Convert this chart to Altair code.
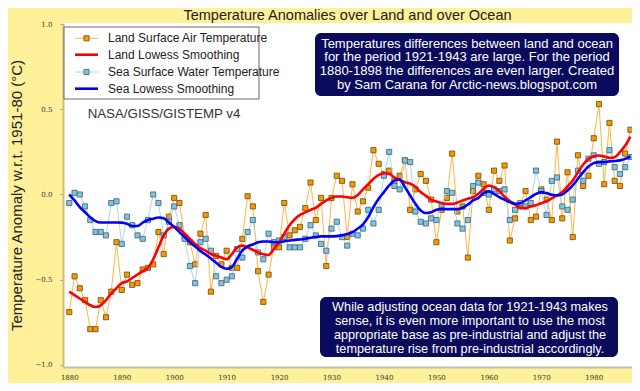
import altair as alt
import pandas as pd

years = list(range(1880, 1988))

land = [-0.69, -0.48, -0.55, -0.62, -0.79, -0.79, -0.62, -0.72, -0.57, -0.28,
        -0.56, -0.47, -0.53, -0.52, -0.44, -0.43, -0.41, -0.22, -0.35, -0.13,
        -0.02, -0.05, -0.25, -0.28, -0.41, -0.23, -0.12, -0.57, -0.36, -0.41,
        -0.33, -0.43, -0.43, -0.26, -0.01, -0.07, -0.45, -0.63, -0.47, -0.31,
        -0.31, -0.05, -0.24, -0.21, -0.19, -0.08, 0.07, -0.15, -0.02, -0.42,
        -0.02, 0.11, 0.08, -0.25, 0.06, -0.10, -0.04, 0.04, 0.26, 0.18,
        0.12, 0.14, 0.08, 0.11, 0.20, -0.09, 0.03, 0.12, 0.08, -0.03,
        -0.28, -0.09, -0.02, 0.24, -0.10, -0.07, -0.37, 0.02, 0.11, 0.06,
        -0.09, 0.14, 0.08, 0.17, -0.27, -0.14, -0.06, 0.02, -0.15, -0.13,
        0.03, -0.03, -0.15, 0.31, -0.14, 0.13, -0.25, 0.23, 0.05, 0.11,
        0.33, 0.53, 0.06, 0.42, 0.08, 0.05, 0.24, 0.38]

sea = [-0.05, 0.01, 0.00, -0.07, -0.15, -0.22, -0.22, -0.24, -0.05, -0.04,
       -0.29, -0.13, -0.18, -0.24, -0.26, -0.15, 0.00, -0.05, -0.24, -0.16,
       -0.07, -0.18, -0.26, -0.42, -0.52, -0.28, -0.26, -0.33, -0.48, -0.52,
       -0.50, -0.48, -0.32, -0.37, -0.22, -0.15, -0.34, -0.38, -0.23, -0.28,
       -0.27, -0.25, -0.31, -0.31, -0.31, -0.26, -0.18, -0.24, -0.29, -0.33,
       -0.20, -0.16, -0.25, -0.30, -0.23, -0.24, -0.20, -0.09, -0.17, -0.09,
       0.11, 0.25, 0.05, 0.03, 0.20, 0.19, -0.10, -0.16, -0.17, -0.14,
       -0.15, -0.06, 0.02, 0.01, -0.17, -0.20, -0.15, 0.05, 0.07, 0.01,
       0.00, 0.03, 0.02, 0.03, -0.15, -0.09, -0.05, -0.07, -0.05, 0.14,
       0.02, -0.12, 0.08, 0.10, -0.07, -0.09, -0.03, 0.14, 0.08, 0.21,
       0.23, 0.18, 0.19, 0.26, 0.16, 0.12, 0.16, 0.22]

land_lowess = [-0.57, -0.59, -0.61, -0.63, -0.65, -0.66, -0.65, -0.62, -0.58, -0.55,
               -0.52, -0.51, -0.49, -0.47, -0.45, -0.43, -0.38, -0.31, -0.24, -0.20,
               -0.19, -0.20, -0.23, -0.26, -0.29, -0.315, -0.33, -0.35, -0.36, -0.37,
               -0.38, -0.35, -0.31, -0.30, -0.31, -0.325, -0.34, -0.35, -0.355, -0.32,
               -0.28, -0.23, -0.18, -0.145, -0.12, -0.105, -0.09, -0.078, -0.055, -0.035,
               -0.02, -0.012, -0.012, -0.016, -0.02, -0.003, 0.03, 0.06, 0.092, 0.115,
               0.125, 0.121, 0.10, 0.085, 0.072, 0.063, 0.045, 0.014, -0.008, -0.031,
               -0.041, -0.051, -0.055, -0.055, -0.047, -0.035, -0.025, -0.016, 0.004, 0.033,
               0.053, 0.043, 0.02, -0.013, -0.038, -0.058, -0.08, -0.08, -0.07, -0.063,
               -0.051, -0.039, -0.023, -0.006, 0.014, 0.047, 0.082, 0.131, 0.176, 0.209,
               0.225, 0.229, 0.223, 0.215, 0.219, 0.248, 0.287, 0.34]

sea_lowess = [0.00, -0.035, -0.074, -0.104, -0.133, -0.156, -0.164, -0.164, -0.164, -0.164,
              -0.165, -0.172, -0.185, -0.185, -0.165, -0.15, -0.142, -0.135, -0.14, -0.165,
              -0.19, -0.221, -0.25, -0.28, -0.305, -0.332, -0.352, -0.375, -0.40, -0.425,
              -0.436, -0.426, -0.377, -0.328, -0.305, -0.293, -0.28, -0.276, -0.276, -0.28,
              -0.28, -0.274, -0.27, -0.266, -0.264, -0.26, -0.254, -0.25, -0.246, -0.246,
              -0.246, -0.244, -0.24, -0.232, -0.221, -0.20, -0.175, -0.133, -0.074, -0.025,
              0.014, 0.053, 0.082, 0.088, 0.043, -0.006, -0.055, -0.094, -0.109, -0.104,
              -0.09, -0.086, -0.086, -0.086, -0.086, -0.078, -0.059, -0.035, -0.02, 0.008,
              0.018, 0.004, -0.016, -0.031, -0.045, -0.055, -0.051, -0.035, -0.016, 0.004,
              0.014, 0.008, -0.002, -0.006, 0.0, 0.023, 0.053, 0.092, 0.131, 0.164,
              0.184, 0.19, 0.19, 0.194, 0.196, 0.20, 0.209, 0.223]

x_ticks = [1880, 1890, 1900, 1910, 1920, 1930, 1940, 1950, 1960, 1970, 1980]
y_ticks = [-1.0, -0.5, 0.0, 0.5, 1.0]

legend_labels = ["Land Surface Air Temperature", "Land Lowess Smoothing",
                 "Sea Surface Water Temperature", "Sea Lowess Smoothing"]
source_label = "NASA/GISS/GISTEMP v4"
note_top = ["Temperatures differences between land and ocean",
            "for the period 1921-1943 are large. For the period",
            "1880-1898 the differences are even larger. Created",
            "by Sam Carana for Arctic-news.blogspot.com"]
note_bottom = ["While adjusting ocean data for 1921-1943 makes",
               "sense, it is even more important to use the most",
               "appropriate base as pre-industrial and adjust the",
               "temperature rise from pre-industrial accordingly."]
title_text = "Temperature Anomalies over Land and over Ocean"
y_title = "Temperature Anomaly w.r.t. 1951-80 (°C)"

df = pd.DataFrame({"year": years, "land": land, "sea": sea,
                   "land_lowess": land_lowess, "sea_lowess": sea_lowess})

LAND_LINE = "#FFB547"
LAND_FILL = "#F59B00"
LAND_EDGE = "#7A5516"
SEA_LINE = "#A9DAEE"
SEA_FILL = "#7CC6E2"
SEA_EDGE = "#4C6B7C"
NAVY = "#0B0B5E"
FONT = "Liberation Sans"

xscale = alt.Scale(domain=[1878.8, 1987.3], nice=False, zero=False)
yscale = alt.Scale(domain=[-1.012, 1.006], nice=False, zero=False)

xaxis = alt.Axis(values=x_ticks, format="d", grid=False, labelFont="DejaVu Serif",
                 labelFontSize=7, labelColor="#333333", tickSize=0, labelPadding=6,
                 domainColor="#C4C0A8", domainWidth=2, title=None)
yaxis = alt.Axis(values=y_ticks, format=".1f", grid=False, labelFont="DejaVu Serif",
                 labelFontSize=7, labelColor="#333333", tickSize=3, tickColor="#999999",
                 labelPadding=8, domainColor="#CDBF78", domainWidth=2,
                 titleFont=FONT, titleFontSize=15, titleFontWeight="normal",
                 titleColor="#222222", titleX=-39, titleY=172, titleAngle=270,
                 titleBaseline="bottom", titleAlign="center")


def X():
    return alt.X("year:Q", scale=xscale, axis=xaxis)


def Y(field):
    return alt.Y(f"{field}:Q", scale=yscale, axis=yaxis, title=y_title)


base = alt.Chart(df)

land_line = base.mark_line(color=LAND_LINE, strokeWidth=1).encode(x=X(), y=Y("land"))
land_pts = base.mark_square(size=26, fill=LAND_FILL, stroke=LAND_EDGE, strokeWidth=0.9,
                            opacity=1).encode(x=X(), y=Y("land"))
sea_line = base.mark_line(color=SEA_LINE, strokeWidth=1).encode(x=X(), y=Y("sea"))
sea_pts = base.mark_square(size=26, fill=SEA_FILL, stroke=SEA_EDGE, strokeWidth=0.9,
                           opacity=1).encode(x=X(), y=Y("sea"))
land_smooth = base.mark_line(color="#FF0000", strokeWidth=2.6, interpolate="monotone").encode(
    x=X(), y=Y("land_lowess"))
sea_smooth = base.mark_line(color="#0000FF", strokeWidth=2.6, interpolate="monotone").encode(
    x=X(), y=Y("sea_lowess"))

one = alt.Chart(pd.DataFrame({"k": [0]}))

title_mark = one.mark_text(align="center", baseline="alphabetic", font=FONT, fontSize=14.5,
                           color="#222222").encode(
    x=alt.value(284.5), y=alt.value(-3.5), text=alt.value(title_text))

legend_box = one.mark_rect(fill="white", stroke="#666666", strokeWidth=1).encode(
    x=alt.value(1), x2=alt.value(196), y=alt.value(4), y2=alt.value(76))

legend_layers = [legend_box]
entry_y = [15.3, 31.7, 49.0, 65.7]
entry_style = [(LAND_LINE, 1, LAND_FILL, LAND_EDGE), ("#FF0000", 2.6, None, None),
               (SEA_LINE, 1, SEA_FILL, SEA_EDGE), ("#0000FF", 2.6, None, None)]
for lab, ey, (lc, lw, fc, ec) in zip(legend_labels, entry_y, entry_style):
    legend_layers.append(one.mark_rule(color=lc, strokeWidth=lw).encode(
        x=alt.value(12), x2=alt.value(35), y=alt.value(ey)))
    if fc:
        legend_layers.append(one.mark_square(size=26, fill=fc, stroke=ec, strokeWidth=0.9,
                                             opacity=1).encode(
            x=alt.value(23.5), y=alt.value(ey)))
    legend_layers.append(one.mark_text(align="left", baseline="middle", font=FONT,
                                       fontSize=12, color="#222222").encode(
        x=alt.value(45), y=alt.value(ey), text=alt.value(lab)))

source = one.mark_text(align="center", baseline="middle", font=FONT, fontSize=13.3,
                       color="#333333").encode(
    x=alt.value(101), y=alt.value(91), text=alt.value(source_label))

box_top = one.mark_rect(fill=NAVY, cornerRadius=6).encode(
    x=alt.value(252), x2=alt.value(556), y=alt.value(10), y2=alt.value(73))
text_top = one.mark_text(align="center", baseline="middle", font=FONT, fontSize=13,
                         color="white", lineHeight=13.7).encode(
    x=alt.value(404), y=alt.value(20.5), text=alt.value(note_top))

box_bot = one.mark_rect(fill=NAVY, cornerRadius=6).encode(
    x=alt.value(257), x2=alt.value(555), y=alt.value(274), y2=alt.value(334))
text_bot = one.mark_text(align="center", baseline="middle", font=FONT, fontSize=12.7,
                         color="white", lineHeight=14).encode(
    x=alt.value(407), y=alt.value(283.5), text=alt.value(note_bottom))

chart = alt.layer(
    land_line, land_pts, sea_line, sea_pts, land_smooth, sea_smooth,
    *legend_layers, source, box_top, text_top, box_bot, text_bot, title_mark
).properties(
    width=569, height=344,
    autosize=alt.AutoSizeParams(type="none"),
    padding={"left": 55, "top": 15, "right": 0, "bottom": 16},
    background="#FFF09A",
).configure_view(fill="white", stroke=None)

chart.save("out.html", embed_options={"renderer": "svg", "actions": False})
